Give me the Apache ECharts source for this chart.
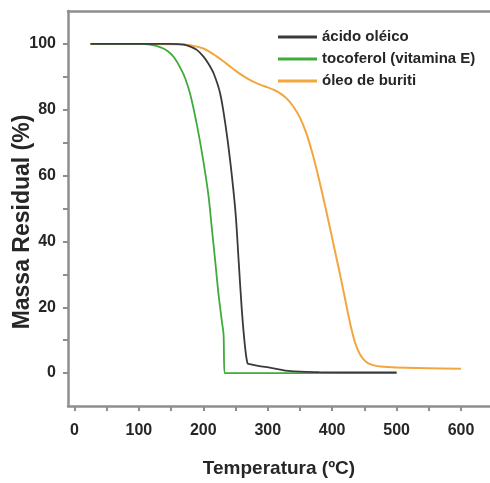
<!DOCTYPE html>
<html>
<head>
<meta charset="utf-8">
<style>
  html, body { margin: 0; padding: 0; background: #fff; }
  #chart { width: 490px; height: 483px; }
</style>
<script src="https://cdn.jsdelivr.net/npm/echarts@6/dist/echarts.min.js"></script>
</head>
<body>
<div id="chart"></div>
<script>
// Thermogravimetric curves: residual mass (%) versus temperature (ºC)
const seriesNames = ['ácido oléico', 'tocoferol (vitamina E)', 'óleo de buriti'];

const acidoTemp = [25, 100, 150, 170, 180, 190, 200, 208, 216, 226, 234, 242, 250, 255, 260, 265, 268.6, 272, 285, 305, 335, 380, 450, 500];
const acidoMass = [100, 100, 100, 99.8, 99.2, 98.2, 96.2, 94, 91.1, 85.1, 76, 64, 48.8, 33.7, 18.6, 7.6, 3, 2.7, 2.2, 1.6, 0.6, 0.3, 0.2, 0.2];

const tocoTemp = [25, 100, 117, 133, 145, 155, 165, 172, 180, 190, 200, 208, 213, 218.5, 223.6, 229, 231.5, 233, 236, 300, 400, 500];
const tocoMass = [100, 100, 99.8, 99, 97.8, 95.8, 92.5, 89.5, 84.5, 75.5, 64.5, 54, 44.5, 34, 24, 15.5, 11.6, 0, 0, 0, 0, 0];

const buritiTemp = [25, 100, 150, 170, 185, 200, 210, 220, 230, 240, 250, 260, 270, 280, 290, 300, 310, 320, 330, 340, 350, 360, 370, 380, 390, 400, 410, 418, 428, 436, 444, 452, 462, 475, 500, 550, 600];
const buritiMass = [100, 100, 99.9, 99.8, 99.4, 98.6, 97.6, 96.3, 94.9, 93.4, 91.9, 90.5, 89.3, 88.3, 87.5, 86.8, 86, 84.9, 83.3, 80.9, 77.6, 72.8, 66.3, 58.5, 50, 41, 32, 24.5, 15, 9, 5.4, 3.5, 2.5, 2, 1.7, 1.5, 1.3];

const xTicks = [0, 50, 100, 150, 200, 250, 300, 350, 400, 450, 500, 550, 600];
const xLabels = [0, 100, 200, 300, 400, 500, 600];
const yTicks = [0, 10, 20, 30, 40, 50, 60, 70, 80, 90, 100];
const yLabels = [0, 20, 40, 60, 80, 100];

const colors = ['#3a3a3a', '#3fab3b', '#f4a63e'];

function pairs(xs, ys) { return xs.map((x, i) => [x, ys[i]]); }

const FONT = "'Liberation Sans', Arial, sans-serif";
const axisGrey = '#8e8e8e';

const chart = echarts.init(document.getElementById('chart'));
chart.setOption({
  animation: false,
  backgroundColor: '#fff',
  grid: { left: 68, right: 0, top: 11, bottom: 75 },
  legend: {
    orient: 'vertical',
    left: 278,
    top: 26,
    padding: 0,
    itemWidth: 39,
    itemHeight: 3,
    itemGap: 0,
    icon: 'rect',
    data: seriesNames,
    textStyle: { fontFamily: FONT, fontSize: 15, fontWeight: 'bold', color: '#262626', lineHeight: 22 }
  },
  xAxis: [{
    type: 'value',
    min: -10,
    max: 645,
    name: 'Temperatura (ºC)',
    nameLocation: 'middle',
    nameGap: 53,
    nameTextStyle: { fontFamily: FONT, fontSize: 19, fontWeight: 'bold', color: '#262626' },
    axisLine: { show: true, onZero: false, lineStyle: { color: axisGrey, width: 2.5 } },
    axisTick: { show: true, inside: false, length: 5, customValues: xTicks, lineStyle: { color: axisGrey, width: 2 } },
    axisLabel: { customValues: xLabels, margin: 17, fontFamily: FONT, fontSize: 16, fontWeight: 'bold', color: '#262626' },
    splitLine: { show: false }
  }, {
    type: 'value',
    position: 'top',
    min: -10,
    max: 645,
    axisLine: { show: true, onZero: false, lineStyle: { color: axisGrey, width: 2.5 } },
    axisTick: { show: false },
    axisLabel: { show: false },
    splitLine: { show: false }
  }],
  yAxis: {
    type: 'value',
    min: -10,
    max: 110,
    axisLine: { show: true, onZero: false, lineStyle: { color: axisGrey, width: 2.5 } },
    axisTick: { show: true, inside: false, length: 5, customValues: yTicks, lineStyle: { color: axisGrey, width: 2 } },
    axisLabel: { customValues: yLabels, margin: 12, fontFamily: FONT, fontSize: 16, fontWeight: 'bold', color: '#262626' },
    splitLine: { show: false }
  },
  graphic: [{
    type: 'text',
    x: 23,
    y: 222,
    rotation: Math.PI / 2,
    style: {
      text: 'Massa Residual (%)',
      fontFamily: FONT,
      fontSize: 23,
      fontWeight: 'bold',
      fill: '#262626',
      align: 'center',
      verticalAlign: 'middle'
    }
  }],
  series: [
    {
      name: seriesNames[0], type: 'line', showSymbol: false, smooth: 0.3,
      data: pairs(acidoTemp, acidoMass), z: 3,
      itemStyle: { color: colors[0] }, lineStyle: { color: colors[0], width: 1.8 }
    },
    {
      name: seriesNames[1], type: 'line', showSymbol: false, smooth: 0.3,
      data: pairs(tocoTemp, tocoMass), z: 2,
      itemStyle: { color: colors[1] }, lineStyle: { color: colors[1], width: 1.8 }
    },
    {
      name: seriesNames[2], type: 'line', showSymbol: false, smooth: 0.3,
      data: pairs(buritiTemp, buritiMass), z: 1,
      itemStyle: { color: colors[2] }, lineStyle: { color: colors[2], width: 2 }
    }
  ]
});
</script>
</body>
</html>
